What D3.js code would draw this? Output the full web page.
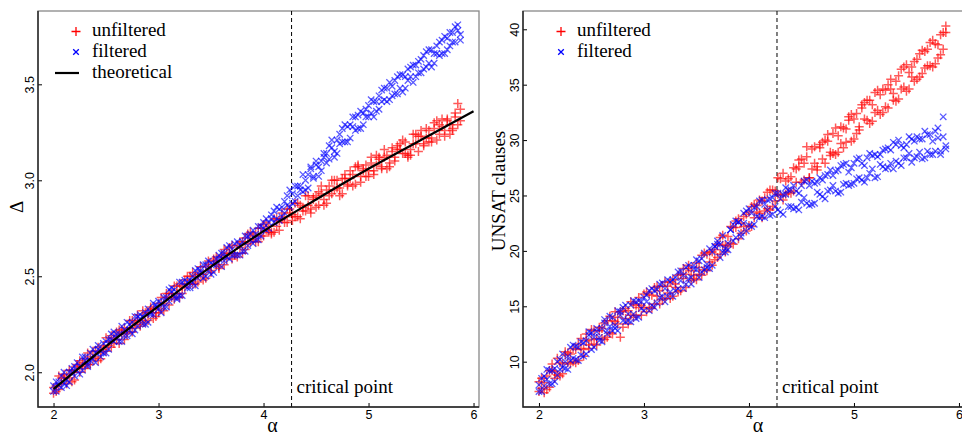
<!DOCTYPE html>
<html>
<head>
<meta charset="utf-8">
<script src="https://cdn.jsdelivr.net/npm/d3@7"></script>
<style>
  body { margin: 0; background: #fff; }
  .tick text { font-family: "Liberation Sans", Arial, sans-serif; font-size: 12.5px; fill: #000; }
</style>
</head>
<body>
<svg id="chart" width="962" height="435"></svg>
<script>
// clause density (x for every series and run)
const alphas = [
  2.000, 2.025, 2.050, 2.075, 2.100, 2.125, 2.150, 2.175, 2.200, 2.225, 2.250, 2.275,
  2.300, 2.325, 2.350, 2.375, 2.400, 2.425, 2.450, 2.475, 2.500, 2.525, 2.550, 2.575,
  2.600, 2.625, 2.650, 2.675, 2.700, 2.725, 2.750, 2.775, 2.800, 2.825, 2.850, 2.875,
  2.900, 2.925, 2.950, 2.975, 3.000, 3.025, 3.050, 3.075, 3.100, 3.125, 3.150, 3.175,
  3.200, 3.225, 3.250, 3.275, 3.300, 3.325, 3.350, 3.375, 3.400, 3.425, 3.450, 3.475,
  3.500, 3.525, 3.550, 3.575, 3.600, 3.625, 3.650, 3.675, 3.700, 3.725, 3.750, 3.775,
  3.800, 3.825, 3.850, 3.875, 3.900, 3.925, 3.950, 3.975, 4.000, 4.025, 4.050, 4.075,
  4.100, 4.125, 4.150, 4.175, 4.200, 4.225, 4.250, 4.275, 4.300, 4.325, 4.350, 4.375,
  4.400, 4.425, 4.450, 4.475, 4.500, 4.525, 4.550, 4.575, 4.600, 4.625, 4.650, 4.675,
  4.700, 4.725, 4.750, 4.775, 4.800, 4.825, 4.850, 4.875, 4.900, 4.925, 4.950, 4.975,
  5.000, 5.025, 5.050, 5.075, 5.100, 5.125, 5.150, 5.175, 5.200, 5.225, 5.250, 5.275,
  5.300, 5.325, 5.350, 5.375, 5.400, 5.425, 5.450, 5.475, 5.500, 5.525, 5.550, 5.575,
  5.600, 5.625, 5.650, 5.675, 5.700, 5.725, 5.750, 5.775, 5.800, 5.825, 5.850, 5.875
];

// left panel: Delta, two runs per alpha
const deltaUnfiltered = [
  1.92, 1.90, 1.91, 1.97, 1.99, 1.98, 1.97, 1.95, 2.00, 2.03, 2.06, 2.03,
  2.02, 2.04, 2.08, 2.11, 2.11, 2.06, 2.10, 2.12, 2.18, 2.16, 2.13, 2.15,
  2.17, 2.22, 2.22, 2.17, 2.20, 2.23, 2.27, 2.26, 2.30, 2.24, 2.27, 2.31,
  2.31, 2.33, 2.28, 2.31, 2.31, 2.39, 2.36, 2.39, 2.41, 2.39, 2.38, 2.45,
  2.39, 2.45, 2.48, 2.46, 2.50, 2.46, 2.50, 2.47, 2.51, 2.48, 2.55, 2.58,
  2.53, 2.59, 2.56, 2.55, 2.60, 2.64, 2.59, 2.62, 2.59, 2.62, 2.66, 2.68,
  2.68, 2.64, 2.72, 2.68, 2.69, 2.72, 2.68, 2.75, 2.77, 2.74, 2.73, 2.73,
  2.73, 2.80, 2.79, 2.83, 2.81, 2.78, 2.85, 2.82, 2.81, 2.88, 2.80, 2.86,
  2.92, 2.87, 2.85, 2.91, 2.86, 2.94, 2.93, 2.87, 2.95, 2.92, 3.00, 2.95,
  2.96, 2.92, 3.01, 3.03, 2.97, 3.01, 2.97, 3.07, 3.07, 3.02, 3.06, 3.02,
  3.05, 3.12, 3.03, 3.08, 3.12, 3.06, 3.12, 3.13, 3.07, 3.15, 3.12, 3.18,
  3.16, 3.21, 3.14, 3.13, 3.16, 3.19, 3.24, 3.15, 3.26, 3.19, 3.22, 3.26,
  3.20, 3.27, 3.31, 3.24, 3.28, 3.23, 3.32, 3.29, 3.27, 3.35, 3.40, 3.31
];
const deltaUnfilteredRun2 = [
  1.89, 1.93, 1.98, 1.94, 1.97, 1.94, 2.01, 2.01, 1.96, 2.04, 2.00, 2.05,
  2.07, 2.10, 2.04, 2.07, 2.08, 2.13, 2.07, 2.14, 2.11, 2.14, 2.19, 2.18,
  2.21, 2.15, 2.20, 2.23, 2.21, 2.27, 2.21, 2.23, 2.27, 2.25, 2.32, 2.26,
  2.27, 2.34, 2.33, 2.29, 2.36, 2.33, 2.32, 2.41, 2.35, 2.41, 2.45, 2.41,
  2.46, 2.41, 2.44, 2.50, 2.46, 2.52, 2.46, 2.51, 2.55, 2.51, 2.49, 2.56,
  2.52, 2.58, 2.60, 2.54, 2.61, 2.56, 2.62, 2.65, 2.66, 2.61, 2.60, 2.65,
  2.62, 2.70, 2.67, 2.73, 2.71, 2.68, 2.75, 2.71, 2.71, 2.78, 2.76, 2.72,
  2.80, 2.76, 2.74, 2.80, 2.78, 2.85, 2.83, 2.79, 2.88, 2.81, 2.87, 2.84,
  2.84, 2.92, 2.83, 2.90, 2.92, 2.87, 2.97, 2.90, 2.88, 2.97, 2.93, 3.00,
  3.00, 2.96, 2.93, 3.01, 2.98, 3.05, 3.03, 2.98, 3.08, 2.99, 3.05, 3.08,
  3.02, 3.09, 3.05, 3.13, 3.11, 3.07, 3.16, 3.06, 3.09, 3.17, 3.10, 3.16,
  3.19, 3.14, 3.20, 3.12, 3.13, 3.24, 3.19, 3.23, 3.23, 3.18, 3.27, 3.20,
  3.22, 3.30, 3.21, 3.29, 3.32, 3.26, 3.31, 3.24, 3.26, 3.33, 3.29, 3.37
];
const deltaFiltered = [
  1.90, 1.95, 1.95, 1.92, 1.94, 1.93, 2.00, 2.00, 2.03, 2.01, 1.99, 2.08,
  2.06, 2.04, 2.10, 2.07, 2.05, 2.12, 2.11, 2.15, 2.16, 2.12, 2.20, 2.16,
  2.18, 2.20, 2.16, 2.19, 2.26, 2.22, 2.26, 2.22, 2.24, 2.30, 2.29, 2.25,
  2.33, 2.31, 2.30, 2.35, 2.33, 2.31, 2.39, 2.39, 2.43, 2.42, 2.39, 2.39,
  2.40, 2.47, 2.45, 2.47, 2.48, 2.47, 2.45, 2.54, 2.53, 2.56, 2.50, 2.53,
  2.51, 2.56, 2.59, 2.61, 2.62, 2.58, 2.60, 2.66, 2.61, 2.67, 2.61, 2.66,
  2.68, 2.63, 2.71, 2.69, 2.67, 2.72, 2.76, 2.71, 2.78, 2.74, 2.78, 2.82,
  2.78, 2.86, 2.79, 2.86, 2.89, 2.87, 2.95, 2.88, 2.89, 2.97, 2.95, 3.03,
  3.00, 2.96, 3.06, 3.02, 3.10, 3.07, 3.05, 3.12, 3.09, 3.18, 3.17, 3.12,
  3.21, 3.19, 3.27, 3.20, 3.20, 3.29, 3.28, 3.33, 3.34, 3.27, 3.35, 3.33,
  3.33, 3.42, 3.33, 3.41, 3.44, 3.41, 3.48, 3.41, 3.42, 3.49, 3.45, 3.54,
  3.55, 3.46, 3.54, 3.52, 3.54, 3.60, 3.54, 3.62, 3.63, 3.58, 3.67, 3.61,
  3.59, 3.66, 3.66, 3.72, 3.73, 3.66, 3.74, 3.70, 3.72, 3.80, 3.81, 3.76
];
const deltaFilteredRun2 = [
  1.93, 1.90, 1.93, 1.98, 2.00, 1.96, 1.95, 2.02, 1.98, 2.05, 2.03, 2.01,
  2.08, 2.03, 2.06, 2.12, 2.10, 2.14, 2.08, 2.10, 2.10, 2.17, 2.17, 2.21,
  2.20, 2.16, 2.24, 2.22, 2.19, 2.25, 2.20, 2.29, 2.29, 2.28, 2.25, 2.31,
  2.26, 2.30, 2.36, 2.34, 2.37, 2.36, 2.34, 2.34, 2.37, 2.44, 2.43, 2.38,
  2.47, 2.40, 2.48, 2.44, 2.44, 2.50, 2.53, 2.49, 2.52, 2.49, 2.56, 2.58,
  2.57, 2.52, 2.56, 2.59, 2.55, 2.62, 2.65, 2.59, 2.64, 2.61, 2.68, 2.61,
  2.63, 2.71, 2.66, 2.72, 2.74, 2.69, 2.69, 2.76, 2.75, 2.80, 2.75, 2.80,
  2.84, 2.80, 2.85, 2.81, 2.83, 2.92, 2.86, 2.93, 2.97, 2.92, 2.97, 2.94,
  2.95, 3.03, 3.07, 3.01, 3.08, 3.02, 3.10, 3.14, 3.14, 3.11, 3.21, 3.15,
  3.14, 3.24, 3.20, 3.29, 3.28, 3.22, 3.33, 3.26, 3.27, 3.36, 3.29, 3.37,
  3.39, 3.35, 3.41, 3.36, 3.37, 3.47, 3.42, 3.48, 3.51, 3.44, 3.52, 3.45,
  3.48, 3.55, 3.48, 3.58, 3.59, 3.51, 3.60, 3.56, 3.56, 3.65, 3.59, 3.68,
  3.68, 3.61, 3.70, 3.65, 3.66, 3.75, 3.68, 3.77, 3.77, 3.72, 3.78, 3.73
];
const theoryAlpha = [2.0, 2.5, 3.0, 3.5, 4.0, 4.5, 5.0, 5.5, 6.0];
const theoryDelta = [1.913, 2.135, 2.344, 2.55, 2.735, 2.90, 3.06, 3.21, 3.36];

// right panel: UNSAT clauses, two runs per alpha
const unsatUnfiltered = [
  7.3, 8.5, 8.1, 7.5, 9.2, 9.2, 8.5, 10.3, 8.7, 9.8, 10.6, 9.9,
  10.7, 10.0, 9.9, 11.6, 12.1, 11.1, 11.9, 11.2, 12.0, 12.8, 11.5, 12.8,
  12.1, 12.0, 13.7, 14.1, 13.7, 13.6, 13.4, 12.2, 13.1, 14.8, 14.6, 14.2,
  15.2, 14.2, 15.8, 15.1, 14.9, 16.3, 14.9, 14.8, 16.7, 15.9, 16.4, 15.6,
  15.7, 16.8, 15.7, 17.4, 17.0, 16.3, 17.9, 18.4, 17.9, 18.4, 17.3, 17.8,
  17.4, 18.5, 19.6, 18.3, 19.7, 19.0, 18.7, 20.1, 19.4, 21.2, 20.5, 20.5,
  21.3, 20.7, 22.1, 22.7, 21.1, 22.5, 22.2, 23.3, 23.5, 22.2, 24.2, 23.5,
  23.4, 24.5, 23.6, 25.3, 25.5, 24.0, 25.4, 25.1, 25.0, 27.0, 25.1, 26.5,
  26.7, 25.4, 27.4, 28.2, 26.2, 27.9, 29.4, 26.6, 29.2, 27.9, 27.3, 29.3,
  28.3, 30.0, 30.5, 28.6, 30.6, 28.7, 30.4, 29.7, 29.3, 31.0, 31.8, 32.3,
  31.9, 30.6, 31.2, 32.9, 31.9, 33.6, 31.5, 33.2, 34.3, 32.7, 34.1, 32.5,
  33.0, 35.0, 34.6, 34.2, 35.3, 33.7, 36.4, 34.8, 34.4, 36.1, 35.7, 37.1,
  37.3, 35.7, 38.1, 36.5, 36.7, 38.8, 36.6, 38.7, 38.6, 37.7, 39.7, 40.3
];
const unsatUnfilteredRun2 = [
  8.2, 7.6, 7.2, 8.7, 7.7, 9.8, 9.1, 8.8, 9.9, 8.9, 10.9, 10.8,
  9.8, 11.2, 11.1, 10.1, 11.2, 10.5, 12.5, 11.5, 12.9, 11.6, 12.1, 13.1,
  13.0, 13.5, 12.2, 12.6, 12.5, 14.5, 14.0, 14.5, 14.6, 13.9, 13.4, 15.4,
  14.0, 15.1, 14.9, 14.2, 16.1, 14.5, 16.1, 16.0, 15.2, 16.8, 15.2, 16.8,
  17.2, 16.2, 17.2, 15.9, 16.7, 17.8, 16.4, 17.5, 16.7, 18.7, 18.2, 17.5,
  18.9, 17.9, 17.8, 19.8, 18.2, 19.9, 19.9, 19.2, 20.6, 19.7, 21.4, 19.9,
  20.4, 22.2, 20.6, 22.1, 22.9, 21.6, 23.1, 21.8, 22.3, 24.0, 23.0, 24.1,
  24.6, 23.0, 24.8, 23.8, 23.7, 25.5, 24.5, 26.6, 26.5, 24.6, 26.3, 25.3,
  25.2, 27.5, 26.2, 27.6, 28.3, 26.4, 28.5, 26.6, 27.4, 29.4, 27.6, 29.6,
  29.8, 27.9, 29.9, 28.9, 28.8, 31.1, 28.9, 31.2, 31.1, 29.8, 32.1, 29.9,
  30.1, 32.4, 30.9, 33.2, 33.4, 31.8, 33.6, 31.7, 32.5, 34.5, 32.3, 34.6,
  34.5, 32.9, 35.5, 33.6, 33.5, 35.8, 34.6, 36.6, 36.8, 34.6, 36.6, 35.3,
  35.5, 37.8, 36.0, 38.0, 38.2, 36.7, 39.0, 36.9, 37.4, 39.5, 38.2, 39.7
];
const unsatFiltered = [
  7.9, 7.3, 8.7, 8.4, 8.0, 9.2, 8.2, 10.0, 10.2, 9.5, 10.0, 9.3,
  10.1, 11.5, 10.2, 11.3, 11.8, 10.5, 11.9, 12.7, 11.1, 12.2, 13.0, 12.2,
  13.0, 13.8, 12.5, 13.2, 12.8, 13.3, 14.6, 14.5, 14.9, 13.6, 14.3, 13.6,
  14.3, 15.4, 14.0, 15.4, 15.8, 15.4, 16.4, 15.1, 14.9, 16.5, 15.8, 17.1,
  16.6, 15.9, 17.2, 15.9, 16.4, 18.1, 17.3, 17.8, 18.5, 17.5, 17.0, 18.7,
  18.3, 19.1, 18.1, 19.8, 18.5, 18.4, 19.9, 20.4, 20.9, 20.6, 19.9, 19.9,
  20.7, 21.9, 22.4, 21.2, 22.6, 21.3, 22.5, 23.6, 22.3, 23.4, 22.4, 24.0,
  24.5, 23.1, 24.2, 23.7, 23.2, 24.8, 25.2, 23.7, 24.7, 23.3, 25.1, 25.5,
  24.0, 25.9, 23.9, 25.2, 25.9, 24.8, 26.4, 24.1, 24.2, 26.1, 25.3, 26.6,
  26.4, 24.7, 26.9, 25.5, 25.9, 27.2, 25.2, 27.7, 27.8, 26.1, 27.1, 26.0,
  26.1, 28.3, 26.6, 27.9, 27.7, 26.6, 28.8, 27.4, 26.6, 28.5, 27.8, 29.1,
  29.2, 27.5, 29.1, 27.4, 28.1, 30.0, 27.7, 29.3, 29.6, 28.8, 30.1, 28.4,
  28.5, 30.1, 28.3, 30.8, 30.5, 28.7, 29.9, 29.0, 30.2, 29.0, 32.1, 29.5
];
const unsatFilteredRun2 = [
  7.3, 8.5, 7.8, 9.3, 9.2, 8.0, 9.4, 8.8, 9.3, 10.7, 9.4, 10.5,
  11.3, 10.3, 11.4, 10.1, 10.6, 11.7, 10.7, 12.4, 12.6, 11.3, 12.7, 11.9,
  11.8, 13.5, 12.8, 14.1, 14.0, 13.0, 12.8, 14.2, 13.7, 15.1, 13.7, 15.1,
  15.5, 13.9, 15.5, 14.8, 14.6, 16.0, 14.6, 16.6, 16.4, 15.3, 17.0, 15.9,
  15.4, 17.4, 16.3, 17.4, 17.6, 16.6, 18.2, 16.6, 17.0, 18.7, 17.6, 18.4,
  19.2, 17.6, 19.3, 18.3, 18.8, 20.2, 18.7, 20.4, 20.6, 19.4, 21.4, 20.2,
  20.1, 21.9, 20.9, 22.7, 22.6, 21.6, 23.4, 21.8, 23.8, 22.2, 23.9, 23.1,
  23.0, 24.6, 23.0, 24.6, 24.7, 23.3, 24.0, 25.2, 23.5, 25.1, 25.7, 24.0,
  25.5, 23.8, 25.4, 23.7, 24.4, 26.3, 24.3, 25.9, 26.3, 24.3, 26.2, 25.1,
  24.9, 26.8, 25.4, 27.3, 26.8, 25.4, 27.3, 25.3, 26.0, 27.9, 25.9, 27.5,
  27.9, 26.5, 28.4, 26.4, 26.2, 28.4, 27.0, 28.6, 28.7, 26.7, 28.7, 27.6,
  27.4, 29.3, 27.9, 29.8, 29.6, 27.9, 29.5, 28.4, 28.4, 30.3, 28.0, 29.9,
  30.3, 28.9, 30.1, 28.4, 29.0, 30.5, 28.7, 30.8, 31.1, 28.7, 30.3, 29.2
];

const criticalPoint = 4.267;
const xTicks = [2, 3, 4, 5, 6];
const deltaTicks = [2.0, 2.5, 3.0, 3.5];
const unsatTicks = [10, 15, 20, 25, 30, 35, 40];

const serif = "'Liberation Serif', 'Times New Roman', Times, serif";
const svg = d3.select("#chart");
const plusPath = (s) => `M${-s},0H${s}M0,${-s}V${s}`;
const timesPath = (s) => `M${-s},${-s}L${s},${s}M${-s},${s}L${s},${-s}`;

const drawPanel = ({ left, right, top, bottom, xDomain, yDomain, yTicks, yFormat,
                     redRuns, blueRuns, theory, yTitle, yTitleX, yTitleY, legend }) => {
  const x = d3.scaleLinear().domain(xDomain).range([left, right]);
  const y = d3.scaleLinear().domain(yDomain).range([bottom, top]);
  const g = svg.append("g");

  // frame
  g.append("rect")
    .attr("x", left).attr("y", top)
    .attr("width", right - left).attr("height", bottom - top)
    .attr("fill", "none").attr("stroke", "#888").attr("stroke-width", 1.3);

  // critical point
  g.append("line")
    .attr("x1", x(criticalPoint)).attr("x2", x(criticalPoint))
    .attr("y1", top).attr("y2", bottom)
    .attr("stroke", "#000").attr("stroke-width", 1).attr("stroke-dasharray", "4,3");
  g.append("text")
    .attr("x", x(criticalPoint) + 5).attr("y", 393)
    .attr("font-family", serif).attr("font-size", 19).text("critical point");

  // points: all unfiltered runs first, filtered on top
  redRuns.forEach((run) => {
    g.append("g").selectAll("path").data(alphas).join("path")
      .attr("transform", (d, i) => `translate(${x(d)},${y(run[i])})`)
      .attr("d", plusPath(4.5))
      .attr("stroke", "#ff0000").attr("stroke-opacity", 0.65).attr("stroke-width", 1.5)
      .attr("fill", "none");
  });
  blueRuns.forEach((run) => {
    g.append("g").selectAll("path").data(alphas).join("path")
      .attr("transform", (d, i) => `translate(${x(d)},${y(run[i])})`)
      .attr("d", timesPath(3.2))
      .attr("stroke", "#0000ff").attr("stroke-opacity", 0.65).attr("stroke-width", 1.3)
      .attr("fill", "none");
  });

  if (theory) {
    const line = d3.line().x((d) => x(d[0])).y((d) => y(d[1])).curve(d3.curveMonotoneX);
    g.append("path")
      .datum(theory[0].map((a, i) => [a, theory[1][i]]))
      .attr("d", line)
      .attr("fill", "none").attr("stroke", "#000").attr("stroke-width", 2.2);
  }

  // axes, ticks pointing inward
  const xAxis = g.append("g").attr("transform", `translate(0,${bottom})`)
    .call(d3.axisBottom(x).tickValues(xTicks).tickFormat(d3.format("d"))
      .tickSizeInner(-4).tickSizeOuter(0).tickPadding(3));
  xAxis.select(".domain").remove();
  const yAxis = g.append("g").attr("transform", `translate(${left},0)`)
    .call(d3.axisLeft(y).tickValues(yTicks).tickFormat(yFormat).tickSizeInner(-4).tickSizeOuter(0));
  yAxis.select(".domain").remove();
  yAxis.selectAll(".tick text")
    .attr("x", null).attr("dy", null)
    .attr("text-anchor", "middle")
    .attr("transform", "translate(-4,0) rotate(-90)");
  g.selectAll(".tick line").attr("stroke", "#000").attr("stroke-width", 1);

  g.append("path")
    .attr("d", `M${left},${top}V${bottom}H${right}`)
    .attr("fill", "none").attr("stroke", "#222").attr("stroke-width", 1.4);

  // axis titles
  g.append("text")
    .attr("x", x(2) + 219).attr("y", 432)
    .attr("text-anchor", "middle")
    .attr("font-family", serif).attr("font-size", 20).text("α");
  g.append("text")
    .attr("transform", `translate(${yTitleX},${yTitleY}) rotate(-90)`)
    .attr("text-anchor", "middle")
    .attr("font-family", serif).attr("font-size", 19).text(yTitle);

  // legend
  const lg = g.append("g").attr("transform", `translate(${left},0)`);
  lg.append("path").attr("transform", "translate(38,31.5)").attr("d", plusPath(4.5))
    .attr("stroke", "#ff0000").attr("stroke-width", 1.3).attr("fill", "none");
  lg.append("path").attr("transform", "translate(38,52)").attr("d", timesPath(2.8))
    .attr("stroke", "#0000ff").attr("stroke-width", 1.3).attr("fill", "none");
  legend.forEach((label, i) => {
    lg.append("text")
      .attr("x", 54).attr("y", 36 + i * 21)
      .attr("font-family", serif).attr("font-size", 19).text(label);
  });
  if (theory) {
    lg.append("line").attr("x1", 17).attr("x2", 41).attr("y1", 73).attr("y2", 73)
      .attr("stroke", "#000").attr("stroke-width", 2.2);
  }
};

drawPanel({
  left: 38, right: 479, top: 11, bottom: 407,
  xDomain: [1.852, 6.052], yDomain: [1.819, 3.882],
  yTicks: deltaTicks, yFormat: d3.format(".1f"),
  redRuns: [deltaUnfiltered, deltaUnfilteredRun2],
  blueRuns: [deltaFiltered, deltaFilteredRun2],
  theory: [theoryAlpha, theoryDelta],
  yTitle: "Δ", yTitleX: 22.5, yTitleY: 207,
  legend: ["unfiltered", "filtered", "theoretical"]
});

drawPanel({
  left: 523, right: 964, top: 11, bottom: 407,
  xDomain: [1.848, 6.048], yDomain: [5.91, 41.65],
  yTicks: unsatTicks, yFormat: d3.format("d"),
  redRuns: [unsatUnfiltered, unsatUnfilteredRun2],
  blueRuns: [unsatFiltered, unsatFilteredRun2],
  theory: null,
  yTitle: "UNSAT clauses", yTitleX: 505, yTitleY: 191,
  legend: ["unfiltered", "filtered"]
});
</script>
</body>
</html>
